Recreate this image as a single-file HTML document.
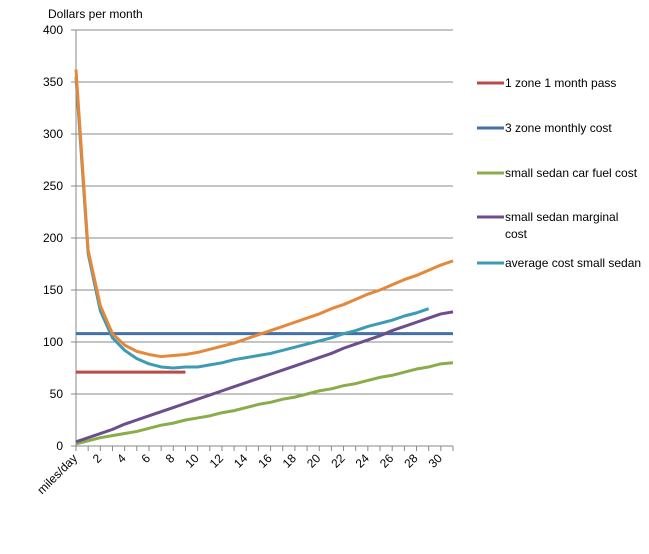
<!DOCTYPE html>
<html><head><meta charset="utf-8"><style>
body{margin:0;background:#fff;width:649px;height:549px;overflow:hidden}
text{font-family:"Liberation Sans",sans-serif;font-size:12px;fill:#000}
</style></head><body>
<svg id="chart" width="649" height="549" xmlns="http://www.w3.org/2000/svg">
<text x="48" y="18" font-size="13">Dollars per month</text>
<g id="grid"></g><g id="axes"></g><g id="series"></g><g id="legend"></g>
</svg>
<script>
const categories = ["miles/day"].concat(Array.from({length:31},(_, i)=>String(i+1)));
const yTicks = [0,50,100,150,200,250,300,350,400];
const seriesNames = ["1 zone 1 month  pass","3 zone monthly cost","small sedan  car fuel cost","small sedan  marginal cost","average cost small  sedan","total cost"];
const pass1 = [71,71,71,71,71,71,71,71,71,71];
const zone3 = [108,108,108,108,108,108,108,108,108,108,108,108,108,108,108,108,108,108,108,108,108,108,108,108,108,108,108,108,108,108,108,108];
const fuel = [2,5,8,10,12,14,17,20,22,25,27,29,32,34,37,40,42,45,47,50,53,55,58,60,63,66,68,71,74,76,79,80];
const marginal = [4,8,12,16,21,25,29,33,37,41,45,49,53,57,61,65,69,73,77,81,85,89,94,98,102,106,111,115,119,123,127,129];
const average = [355,185,130,104,92,84,79,76,75,76,76,78,80,83,85,87,89,92,95,98,101,104,108,111,115,118,121,125,128,132];
const total = [362,188,135,108,97,91,88,86,87,88,90,93,96,99,103,107,111,115,119,123,127,132,136,141,146,150,155,160,164,169,174,178];
const colors = ["#b94a48","#4470a8","#8aac4a","#6c4e8c","#3d9bb4","#e6883a"];
const X0=76, X1=453, Y0=446, Y1=30;
const x = i => X0 + i*(X1-X0)/31;
const y = v => Y0 - v*(Y0-Y1)/400;
const NS="http://www.w3.org/2000/svg";
function mk(tag, attrs, parent){const e=document.createElementNS(NS,tag);for(const k in attrs)e.setAttribute(k,attrs[k]);parent.appendChild(e);return e;}
const grid=document.getElementById('grid'), axes=document.getElementById('axes'), ser=document.getElementById('series'), leg=document.getElementById('legend');
yTicks.forEach(t=>{
  if(t>0){const g=mk('line',{x1:X0,x2:X1,y1:y(t),y2:y(t),stroke:'#888','stroke-width':1},grid);
  
  }
  const tk=mk('line',{x1:X0-5,x2:X0,y1:y(t),y2:y(t),stroke:'#888'},axes);
  
  
  const tl=mk('text',{x:X0-13,y:y(t)+4,'text-anchor':'end'},axes);
  tl.textContent=t;
  
  
});
const ya=mk('line',{x1:X0,x2:X0,y1:Y1,y2:Y0,stroke:'#888'},axes);


const xa=mk('line',{x1:X0,x2:X1,y1:Y0,y2:Y0,stroke:'#888'},axes);


for(let i=0;i<=31;i++){
  const tk=mk('line',{x1:x(i),x2:x(i),y1:Y0,y2:Y0+5,stroke:'#888'},axes);
  
  
}
categories.forEach((c,i)=>{
  if(i%2!==0)return;
  const lx=x(i)+2, ly=Y0+13;
  const t=mk('text',{x:lx,y:ly,'text-anchor':'end',transform:`rotate(-45 ${lx} ${ly})`},axes);
  t.textContent=c;
  
  
});
const data=[pass1,zone3,fuel,marginal,average,total];
const sname=['series-1-zone-pass','series-3-zone-cost','series-fuel-cost','series-marginal-cost','series-average-cost','series-total-cost'];
data.forEach((d,k)=>{
  const p=mk('polyline',{points:d.map((v,i)=>x(i)+','+y(v)).join(' '),fill:'none',stroke:colors[k],'stroke-width':3,'stroke-linejoin':'round'},ser);
  
  
});
const legItems=[[0,83,["1 zone 1 month  pass"]],[1,128,["3 zone monthly cost"]],[2,173,["small sedan  car fuel cost"]],[3,217,["small sedan  marginal","cost"]],[4,263,["average cost small  sedan"]]];
legItems.forEach(([k,ly,lines])=>{
  const g=mk('g',{},leg);
  
  
  mk('line',{x1:477,x2:504,y1:ly,y2:ly,stroke:colors[k],'stroke-width':3},g);
  lines.forEach((s,j)=>{const t=mk('text',{x:505,y:ly+4+j*17},g);t.textContent=s;});
});
</script>
</body></html>
